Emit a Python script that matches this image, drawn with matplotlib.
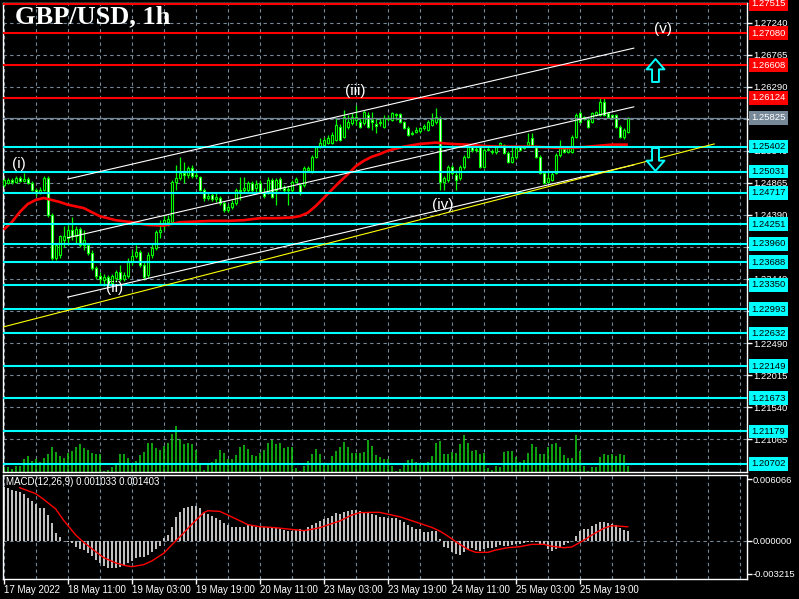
import numpy as np
import matplotlib
matplotlib.use("Agg")
import matplotlib.pyplot as plt
import matplotlib.transforms as mtransforms
from matplotlib.path import Path

plt.rcParams['font.family'] = ['Liberation Sans', 'DejaVu Sans']

# ---------------- data (1h GBP/USD candles) ----------------
opens = [1.2483, 1.2486, 1.2491, 1.2488, 1.2494, 1.2489, 1.2492, 1.2486, 1.2476, 1.2471,
         1.2476, 1.2494, 1.2439, 1.2375, 1.2379, 1.2402, 1.2405, 1.2417, 1.2408, 1.2418,
         1.2394, 1.2394, 1.2382, 1.2360, 1.2348, 1.2342, 1.2347, 1.2338, 1.2345, 1.2354,
         1.2344, 1.2348, 1.2369, 1.2378, 1.2384, 1.2365, 1.2350, 1.2379, 1.2390, 1.2414,
         1.2424, 1.2428, 1.2428, 1.2488, 1.2494, 1.2501, 1.2498, 1.2508, 1.2497, 1.2495,
         1.2476, 1.2464, 1.2468, 1.2462, 1.2464, 1.2457, 1.2446, 1.2451, 1.2457, 1.2474,
         1.2476, 1.2476, 1.2486, 1.2479, 1.2486, 1.2473, 1.2473, 1.2491, 1.2476, 1.2492,
         1.2479, 1.2476, 1.2476, 1.2488, 1.2483, 1.2483, 1.2505, 1.2502, 1.2525, 1.2540,
         1.2542, 1.2545, 1.2545, 1.2550, 1.2569, 1.2554, 1.2569, 1.2575, 1.2580, 1.2577,
         1.2575, 1.2587, 1.2580, 1.2574, 1.2577, 1.2569, 1.2581, 1.2580, 1.2587, 1.2588,
         1.2577, 1.2568, 1.2560, 1.2562, 1.2563, 1.2568, 1.2565, 1.2572, 1.2577, 1.2582,
         1.2488, 1.2491, 1.2510, 1.2498, 1.2494, 1.2510, 1.2525, 1.2540, 1.2537, 1.2540,
         1.2510, 1.2535, 1.2534, 1.2532, 1.2542, 1.2542, 1.2531, 1.2517, 1.2525, 1.2540,
         1.2538, 1.2542, 1.2553, 1.2540, 1.2525, 1.2501, 1.2488, 1.2491, 1.2501, 1.2528,
         1.2537, 1.2532, 1.2532, 1.2554, 1.2590, 1.2582, 1.2580, 1.2577, 1.2587, 1.2587,
         1.2606, 1.2590, 1.2587, 1.2587, 1.2569, 1.2554, 1.2562]
highs = [1.2494, 1.2494, 1.2494, 1.2497, 1.2497, 1.2501, 1.2495, 1.2489, 1.2479, 1.2480,
         1.2497, 1.2497, 1.2442, 1.2397, 1.2409, 1.2422, 1.2424, 1.2436, 1.2422, 1.2421,
         1.2417, 1.2397, 1.2387, 1.2363, 1.2354, 1.2351, 1.2350, 1.2351, 1.2357, 1.2365,
         1.2354, 1.2375, 1.2387, 1.2394, 1.2387, 1.2369, 1.2384, 1.2397, 1.2417, 1.2431,
         1.2439, 1.2439, 1.2491, 1.2513, 1.2525, 1.2517, 1.2511, 1.2513, 1.2502, 1.2497,
         1.2479, 1.2473, 1.2471, 1.2471, 1.2467, 1.2460, 1.2455, 1.2461, 1.2479, 1.2495,
         1.2495, 1.2489, 1.2489, 1.2491, 1.2491, 1.2479, 1.2495, 1.2494, 1.2494, 1.2495,
         1.2483, 1.2482, 1.2491, 1.2495, 1.2486, 1.2511, 1.2511, 1.2528, 1.2541, 1.2553,
         1.2554, 1.2557, 1.2562, 1.2582, 1.2574, 1.2594, 1.2587, 1.2590, 1.2602, 1.2582,
         1.2594, 1.2591, 1.2591, 1.2582, 1.2582, 1.2587, 1.2587, 1.2591, 1.2590, 1.2590,
         1.2578, 1.2571, 1.2563, 1.2569, 1.2569, 1.2574, 1.2580, 1.2590, 1.2597, 1.2585,
         1.2497, 1.2513, 1.2513, 1.2505, 1.2513, 1.2528, 1.2541, 1.2542, 1.2540, 1.2542,
         1.2538, 1.2540, 1.2537, 1.2541, 1.2547, 1.2544, 1.2534, 1.2540, 1.2541, 1.2541,
         1.2541, 1.2560, 1.2560, 1.2541, 1.2528, 1.2504, 1.2505, 1.2502, 1.2531, 1.2550,
         1.2541, 1.2541, 1.2557, 1.2590, 1.2593, 1.2585, 1.2582, 1.2591, 1.2593, 1.2612,
         1.2612, 1.2591, 1.2588, 1.2588, 1.2572, 1.2568, 1.2584]
lows = [1.2480, 1.2485, 1.2485, 1.2486, 1.2488, 1.2488, 1.2485, 1.2474, 1.2467, 1.2470,
        1.2474, 1.2436, 1.2372, 1.2372, 1.2375, 1.2391, 1.2394, 1.2402, 1.2396, 1.2391,
        1.2387, 1.2379, 1.2357, 1.2344, 1.2335, 1.2333, 1.2332, 1.2335, 1.2339, 1.2341,
        1.2341, 1.2345, 1.2365, 1.2375, 1.2362, 1.2342, 1.2345, 1.2375, 1.2387, 1.2405,
        1.2417, 1.2422, 1.2425, 1.2476, 1.2491, 1.2486, 1.2494, 1.2494, 1.2494, 1.2474,
        1.2460, 1.2461, 1.2460, 1.2458, 1.2454, 1.2443, 1.2443, 1.2448, 1.2454, 1.2461,
        1.2473, 1.2473, 1.2473, 1.2473, 1.2471, 1.2464, 1.2470, 1.2464, 1.2454, 1.2476,
        1.2473, 1.2454, 1.2473, 1.2486, 1.2468, 1.2480, 1.2504, 1.2501, 1.2523, 1.2538,
        1.2541, 1.2544, 1.2544, 1.2548, 1.2548, 1.2553, 1.2566, 1.2572, 1.2572, 1.2568,
        1.2572, 1.2568, 1.2565, 1.2560, 1.2571, 1.2568, 1.2578, 1.2578, 1.2580, 1.2575,
        1.2566, 1.2556, 1.2557, 1.2560, 1.2560, 1.2565, 1.2563, 1.2571, 1.2574, 1.2476,
        1.2476, 1.2488, 1.2498, 1.2476, 1.2491, 1.2507, 1.2523, 1.2532, 1.2532, 1.2508,
        1.2508, 1.2534, 1.2529, 1.2529, 1.2541, 1.2529, 1.2516, 1.2516, 1.2522, 1.2534,
        1.2537, 1.2540, 1.2541, 1.2523, 1.2499, 1.2485, 1.2486, 1.2489, 1.2499, 1.2525,
        1.2531, 1.2531, 1.2531, 1.2553, 1.2575, 1.2580, 1.2568, 1.2575, 1.2585, 1.2585,
        1.2585, 1.2582, 1.2581, 1.2568, 1.2553, 1.2551, 1.2560]
closes = [1.2491, 1.2491, 1.2488, 1.2494, 1.2489, 1.2492, 1.2486, 1.2476, 1.2471, 1.2476,
          1.2494, 1.2439, 1.2375, 1.2394, 1.2408, 1.2408, 1.2417, 1.2408, 1.2418, 1.2394,
          1.2402, 1.2382, 1.2360, 1.2348, 1.2344, 1.2347, 1.2338, 1.2348, 1.2354, 1.2344,
          1.2350, 1.2369, 1.2378, 1.2384, 1.2365, 1.2347, 1.2379, 1.2390, 1.2414, 1.2417,
          1.2431, 1.2433, 1.2488, 1.2494, 1.2501, 1.2498, 1.2508, 1.2497, 1.2498, 1.2476,
          1.2464, 1.2467, 1.2462, 1.2465, 1.2457, 1.2446, 1.2451, 1.2457, 1.2476, 1.2476,
          1.2479, 1.2486, 1.2476, 1.2485, 1.2473, 1.2467, 1.2491, 1.2465, 1.2491, 1.2479,
          1.2476, 1.2477, 1.2488, 1.2492, 1.2471, 1.2508, 1.2508, 1.2525, 1.2540, 1.2545,
          1.2550, 1.2553, 1.2557, 1.2572, 1.2550, 1.2584, 1.2577, 1.2584, 1.2584, 1.2569,
          1.2591, 1.2569, 1.2577, 1.2571, 1.2575, 1.2582, 1.2582, 1.2590, 1.2588, 1.2577,
          1.2568, 1.2557, 1.2559, 1.2565, 1.2568, 1.2571, 1.2577, 1.2580, 1.2584, 1.2488,
          1.2494, 1.2510, 1.2501, 1.2491, 1.2510, 1.2525, 1.2540, 1.2535, 1.2535, 1.2510,
          1.2535, 1.2537, 1.2532, 1.2540, 1.2545, 1.2531, 1.2517, 1.2525, 1.2538, 1.2535,
          1.2540, 1.2547, 1.2542, 1.2525, 1.2501, 1.2486, 1.2494, 1.2499, 1.2528, 1.2540,
          1.2532, 1.2540, 1.2554, 1.2587, 1.2577, 1.2584, 1.2569, 1.2590, 1.2591, 1.2606,
          1.2587, 1.2584, 1.2582, 1.2569, 1.2554, 1.2565, 1.2582]

# tick volumes
volumes = [360, 390, 240, 480, 480, 1140, 1410, 960, 1140, 870,
           1230, 1590, 2220, 1770, 1410, 1230, 1680, 1860, 2220, 2490,
           2130, 1950, 1680, 1590, 1590, 30, 90, 390, 600, 1590,
           1590, 1230, 690, 960, 1500, 1770, 2580, 2580, 2130, 1950,
           2310, 2580, 3390, 4110, 2940, 2490, 2580, 2490, 1950, 600,
           90, 600, 870, 1140, 1950, 1680, 1140, 1140, 1500, 2220,
           2400, 2040, 1500, 1410, 1680, 1950, 2580, 2850, 2490, 2580,
           2130, 2220, 2220, 330, 30, 510, 960, 1590, 2040, 1590,
           600, 600, 1410, 1860, 2220, 2670, 2220, 1680, 1680, 1680,
           1770, 2850, 2310, 1500, 1320, 1140, 1140, 510, 30, 240,
           600, 1050, 1140, 870, 690, 600, 870, 1410, 2580, 2760,
           1590, 1590, 1770, 1680, 2490, 3300, 2580, 1860, 1950, 1590,
           1680, 330, 90, 510, 420, 1770, 1860, 1860, 1320, 870,
           1050, 1680, 2490, 2220, 1590, 1590, 2220, 2490, 2580, 2220,
           1500, 1230, 1230, 3300, 1860, 510, 30, 420, 420, 1320,
           1590, 1500, 1590, 1410, 1590, 1500, 510]

# moving average (red) sampled at bar indices
ma_idx = [0, 2, 4, 6, 8, 10, 12, 14, 16, 20, 24, 28, 32, 36, 40, 44, 48, 52, 56, 60,
          64, 68, 72, 74, 76, 78, 80, 82, 84, 86, 88, 90, 92, 94, 96, 100, 104, 108, 112,
          116, 120, 124, 128, 132, 136, 140, 144, 148, 152, 156]
ma_val = [1.2417, 1.2428, 1.2443, 1.2455, 1.2461, 1.2464, 1.2461, 1.2458, 1.2454, 1.2449,
          1.2437, 1.2431, 1.2428, 1.2424, 1.2423, 1.2428, 1.2429, 1.2430, 1.2430, 1.2431,
          1.2434, 1.2434, 1.2435, 1.2437, 1.2442, 1.2452, 1.2464, 1.2476, 1.2488, 1.2499,
          1.2511, 1.2519, 1.2525, 1.2529, 1.2534, 1.2540, 1.2544, 1.2546, 1.2544, 1.2543,
          1.2541, 1.2540, 1.2540, 1.2540, 1.2539, 1.2538, 1.2539, 1.2541, 1.2543, 1.2543]

# MACD(12,26,9) main histogram, in units of 1e-4
macd_hist_1e4 = [53.1, 52.5, 50.2, 49.2, 47.9, 45.9, 42.6, 39.4, 36.1, 32.8,
                 32.1, 25.6, 17.4, 7.5, 4.3, 0.2, -1.3, -2.3, -5.6, -7.9,
                 -8.9, -11.5, -14.8, -18.7, -22.0, -24.3, -26.2, -26.2, -26.2, -25.3,
                 -23.6, -22.0, -19.7, -16.4, -15.4, -15.4, -13.8, -11.2, -7.9, -4.6,
                 2.6, 5.9, 14.1, 23.9, 28.9, 32.1, 33.8, 34.8, 34.8, 32.1,
                 28.9, 26.2, 24.9, 22.3, 20.7, 18.0, 15.7, 14.1, 14.1, 14.1,
                 14.1, 15.7, 15.1, 14.1, 14.1, 14.1, 14.1, 13.1, 12.5, 11.5,
                 10.8, 9.8, 9.8, 10.8, 11.8, 10.8, 14.1, 15.7, 17.4, 19.7,
                 21.6, 23.0, 24.9, 27.2, 26.2, 28.9, 29.5, 30.5, 30.5, 29.5,
                 28.9, 27.2, 26.2, 25.6, 23.9, 23.9, 23.0, 23.0, 23.0, 20.7,
                 19.0, 15.7, 14.1, 11.8, 11.8, 9.2, 9.2, 9.8, 9.8, 2.0,
                 -5.6, -6.6, -10.5, -13.1, -13.8, -11.2, -7.9, -7.2, -8.9, -9.8,
                 -7.9, -6.6, -6.6, -5.6, -3.9, -4.6, -4.6, -3.9, -3.3, -3.3,
                 -2.3, -0.7, -0.7, -0.7, -3.3, -3.9, -7.9, -9.8, -7.9, -6.6,
                 -3.9, -2.3, 0.2, 5.2, 9.8, 11.8, 11.8, 15.1, 16.4, 18.4,
                 18.4, 17.4, 16.4, 15.7, 13.1, 10.8, 10.33]
# MACD signal line (red), units of 1e-4, sampled at bar indices
sig_idx = [4, 8, 10, 13, 15, 18, 20, 23, 25, 28, 30, 32, 35, 37, 40, 42, 45, 47, 50, 51,
           54, 56, 59, 61, 64, 68, 71, 75, 77, 79, 82, 84, 87, 89, 92, 94, 97, 99, 102, 104,
           107, 109, 111, 113, 116, 118, 121, 123, 126, 129, 132, 135, 137, 140, 142, 145,
           147, 150, 152, 156]
sig_1e4 = [52.5, 46.6, 41.0, 31.5, 20.3, 5.9, -1.3, -10.5, -16.4, -21.6, -23.9, -25.3,
           -23.3, -19.7, -12.1, -3.9, 7.9, 16.4, 27.9, 29.8, 29.2, 25.6, 20.0, 16.1, 14.1,
           13.1, 11.8, 10.2, 11.5, 13.1, 17.1, 19.7, 25.6, 27.9, 28.2, 28.2, 25.6, 23.9,
           20.0, 17.4, 13.4, 9.8, 4.9, -0.7, -8.2, -11.2, -11.2, -8.9, -6.6, -5.6, -3.3,
           -3.3, -5.2, -6.6, -5.9, 0.7, 5.9, 12.5, 15.1, 14.03]

# horizontal levels
red_levels = [1.27515, 1.27080, 1.26608, 1.26124]
cyan_levels = [1.25402, 1.25031, 1.24717, 1.24251, 1.23960, 1.23688, 1.23350,
               1.22993, 1.22632, 1.22149, 1.21673, 1.21179, 1.20702]
bid_price = 1.25825
price_ticks = [1.27240, 1.26765, 1.26290, 1.25815, 1.25340, 1.24865, 1.24390,
               1.23915, 1.23440, 1.22965, 1.22490, 1.22015, 1.21540, 1.21065]
# tick labels fully hidden behind level boxes in the reference
hidden_ticks = [1.25815, 1.23915, 1.22965]

# trend lines: (bar0, price0, bar1, price1)
white_lines = [(16, 1.2492, 157.5, 1.2686),
               (16, 1.2405, 157.5, 1.2599),
               (16, 1.2317, 157.5, 1.2513)]
yellow_line = (0, 1.2273, 177.6, 1.2544)

wave_labels = ['(i)', '(ii)', '(iii)', '(iv)', '(v)']
wave_x = [3.8, 27.8, 87.8, 109.7, 164.8]
wave_y = [1.2514, 1.2330, 1.2623, 1.2454, 1.2714]

arrow_x = 162.8
arrow_up_y = 1.2653
arrow_dn_y = 1.2522

time_idx = [0, 16, 32, 48, 64, 80, 96, 112, 128, 144]
time_labels = ['17 May 2022', '18 May 11:00', '19 May 03:00', '19 May 19:00',
               '20 May 11:00', '23 May 03:00', '23 May 19:00', '24 May 11:00',
               '25 May 03:00', '25 May 19:00']

# ---------------- figure ----------------
W, H = 799, 599
fig = plt.figure(figsize=(W / 100, H / 100), dpi=100, facecolor='black')

left_px, right_px = 2.5, 747.0
main_top, main_bot = 3.0, 471.5
macd_top, macd_bot = 474.5, 578.5

ax = fig.add_axes([left_px / W, 1 - main_bot / H, (right_px - left_px) / W,
                   (main_bot - main_top) / H])
axm = fig.add_axes([left_px / W, 1 - macd_bot / H, (right_px - left_px) / W,
                    (macd_bot - macd_top) / H])

XLIM = (-0.3, 185.8)
grid_kw = dict(color='#778899', lw=0.8, ls=(0, (3, 3)))
for a in (ax, axm):
    a.set_facecolor('black')
    for s in a.spines.values():
        s.set_color('white')
        s.set_linewidth(1.0)

x = np.arange(len(closes))
o = np.array(opens); c = np.array(closes)
h = np.array(highs); l = np.array(lows)
up = c >= o

# volumes at the bottom of the main panel
vol_top = max(volumes) * (main_bot - main_top) / 45.7
trans_vol = mtransforms.blended_transform_factory(
    ax.transData, mtransforms.Affine2D().scale(1, 1 / vol_top) + ax.transAxes)
ax.vlines(x, 0, volumes, colors='#12d012', lw=1.1, transform=trans_vol, zorder=1)

# candles
ax.vlines(x, l, h, colors='#00ff00', lw=0.9, zorder=3)
ax.bar(x[up], (c - o)[up], bottom=o[up], width=0.6, color='black',
       edgecolor='#00ff00', linewidth=0.8, zorder=3.5)
ax.bar(x[~up], (o - c)[~up], bottom=c[~up], width=0.6, color='white',
       edgecolor='#00ff00', linewidth=0.8, zorder=3.5)

# moving average
ax.plot(ma_idx, ma_val, color='red', lw=1.9, zorder=4, solid_capstyle='butt')

# horizontal levels
for lv in red_levels:
    ax.axhline(lv, color='#ff0000', lw=1.5, zorder=5)
for lv in cyan_levels:
    ax.axhline(lv, color='#00ffff', lw=1.5, zorder=5)
ax.axhline(bid_price, color='#778899', lw=0.9, zorder=4.8)

# trend lines
for (x0, p0, x1, p1) in white_lines:
    ax.plot([x0, x1], [p0, p1], color='white', lw=0.8, zorder=5.5)
ax.plot([yellow_line[0], yellow_line[2]], [yellow_line[1], yellow_line[3]],
        color='#ffff00', lw=0.8, zorder=5.6)

# wave labels
for t, wx, wy in zip(wave_labels, wave_x, wave_y):
    ax.text(wx, wy, t, color='white', fontsize=11, ha='center', va='center', zorder=8)

# hollow block arrows (marker shapes)
up_arrow = Path([(0, 1), (0.78, 0.1), (0.3, 0.1), (0.3, -1), (-0.3, -1),
                 (-0.3, 0.1), (-0.78, 0.1), (0, 1)],
                [Path.MOVETO] + [Path.LINETO] * 6 + [Path.CLOSEPOLY])
dn_arrow = Path([(0, -1), (0.78, -0.1), (0.3, -0.1), (0.3, 1), (-0.3, 1),
                 (-0.3, -0.1), (-0.78, -0.1), (0, -1)],
                [Path.MOVETO] + [Path.LINETO] * 6 + [Path.CLOSEPOLY])
ax.plot([arrow_x], [arrow_up_y], marker=up_arrow, markersize=16.5, mfc='black',
        mec='#00ffff', mew=1.4, ls='none', zorder=8)
ax.plot([arrow_x], [arrow_dn_y], marker=dn_arrow, markersize=16.5, mfc='black',
        mec='#00ffff', mew=1.4, ls='none', zorder=8)

# axes settings main
ax.set_xlim(*XLIM)
ax.set_ylim(1.20586, 1.27529)
ax.yaxis.tick_right()
ax.set_yticks(price_ticks)
ax.set_yticklabels(['' if t in hidden_ticks else f"{t:.5f}" for t in price_ticks])
ax.tick_params(axis='y', colors='white', labelsize=6.8, length=3.3, width=1, pad=1)
ax.set_xticks(np.arange(0, 186, 8))
ax.tick_params(axis='x', length=0, labelbottom=False)
ax.grid(True, **grid_kw)
ax.set_axisbelow(True)

# right-side boxed labels
tb = mtransforms.blended_transform_factory(ax.transAxes, ax.transData)
def box_label(val, bg, fg):
    ax.text(1.006, val, f"{val:.5f}", transform=tb, ha='left', va='center',
            fontsize=6.8, color=fg, clip_on=False, zorder=10,
            bbox=dict(boxstyle='square,pad=0.25', fc=bg, ec='none'))
for lv in red_levels:
    box_label(lv, '#ff0000', 'white')
box_label(bid_price, '#778899', 'white')
for lv in cyan_levels:
    box_label(lv, '#00ffff', 'black')

# title
fig.text(15 / W, 1 - 5 / H, 'GBP/USD, 1h', family='Liberation Serif', weight='bold',
         fontsize=19, color='white', ha='left', va='top')

# ---------------- MACD panel ----------------
axm.bar(x, np.array(macd_hist_1e4) * 1e-4, width=0.5, color='#c0c0c0', zorder=2)
axm.plot(sig_idx, np.array(sig_1e4) * 1e-4, color='red', lw=1.0, zorder=3)
axm.axhline(0, zorder=0.5, **grid_kw)
axm.set_xlim(*XLIM)
axm.set_ylim(-0.003694, 0.00655)
axm.yaxis.tick_right()
axm.set_yticks([0.006066, 0.0, -0.003215])
axm.set_yticklabels(['0.006066', '0.000000', '-0.003215'])
axm.tick_params(axis='y', colors='white', labelsize=6.8, length=3.3, width=1, pad=1)
axm.set_xticks(time_idx)
axm.set_xticklabels(time_labels, ha='left')
axm.set_xticks(np.arange(0, 186, 8), minor=True)
axm.tick_params(axis='x', which='major', colors='white', labelsize=7, length=3.3,
                width=1, pad=1.5)
axm.tick_params(axis='x', which='minor', length=0)
axm.grid(True, which='both', axis='x', **grid_kw)
axm.set_axisbelow(True)
fig.text(6 / W, 1 - 482 / H, 'MACD(12,26,9) 0.001033 0.001403', color='white',
         fontsize=7, ha='left', va='center')

fig.savefig('out.png', dpi=100, facecolor='black')
